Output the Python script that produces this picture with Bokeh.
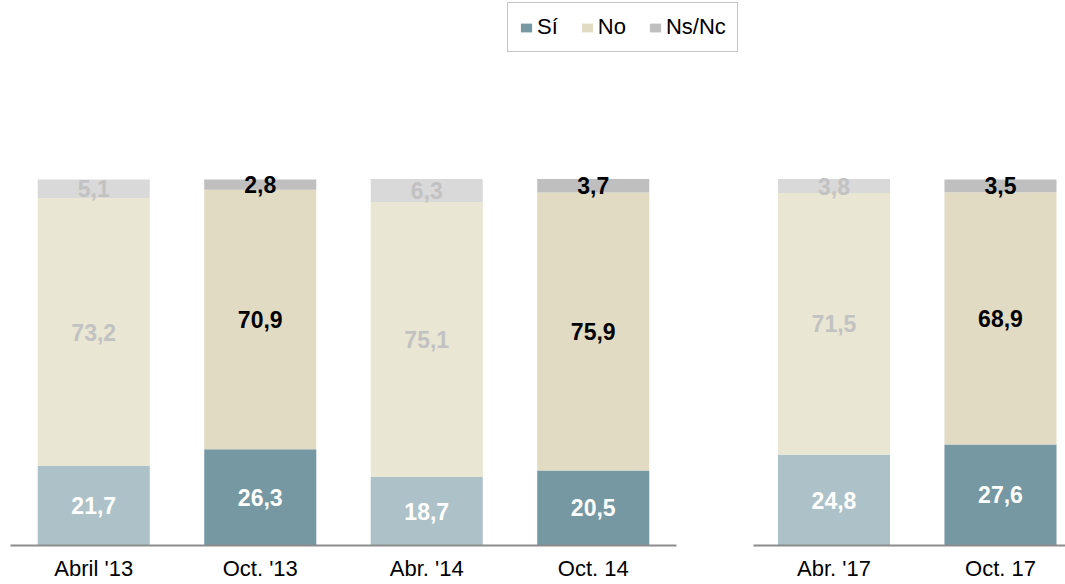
import numpy as np
from bokeh.plotting import figure
from bokeh.models import ColumnDataSource, Range1d, FixedTicker, Legend, LegendItem
from bokeh.layouts import column, row
from bokeh.embed import file_html
from bokeh.resources import INLINE
from bokeh.core.properties import value

# ---- data ----
periods_a = ["Abril '13", "Oct. '13", "Abr. '14", "Oct. 14"]
periods_b = ["Abr. '17", "Oct. 17"]
si = [21.7, 26.3, 18.7, 20.5, 24.8, 27.6]
no = [73.2, 70.9, 75.1, 75.9, 71.5, 68.9]
nsnc = [5.1, 2.8, 6.3, 3.7, 3.8, 3.5]
series_names = ["Sí", "No", "Ns/Nc"]

# ---- styles ----
dark = [False, True, False, True, False, True]
dark_colors = ["#7598A3", "#E2DBC3", "#BFBFBF"]
light_colors = ["#ADC2C8", "#E9E6D4", "#D9D9D9"]
dark_text = ["#FFFFFF", "#000000", "#000000"]
light_text = ["#FFFFFF", "#C2C2C2", "#C2C2C2"]
FONT = "Liberation Sans"
TOP_H = 68
PANEL_H = 516


def make_panel(labels, sl, width, bl, br, x0, x1):
    vals = np.array([si[sl], no[sl], nsnc[sl]])
    tops = np.cumsum(vals, axis=0)
    bottoms = tops - vals
    n = len(labels)
    xs = np.arange(n) + 0.5
    flags = dark[sl]
    p = figure(width=width, height=PANEL_H, x_range=Range1d(x0, x1),
               y_range=Range1d(0, 130.3), output_backend="svg",
               toolbar_location=None, y_axis_location=None,
               min_border_left=bl, min_border_right=br,
               min_border_top=0, min_border_bottom=39)
    p.outline_line_color = None
    p.xgrid.visible = False
    p.ygrid.visible = False
    p.background_fill_color = "white"
    p.border_fill_color = "white"
    for k in range(3):
        fills = [dark_colors[k] if d else light_colors[k] for d in flags]
        tcol = [dark_text[k] if d else light_text[k] for d in flags]
        src = ColumnDataSource(dict(
            x=xs, top=tops[k], bottom=bottoms[k],
            mid=(tops[k] + bottoms[k]) / 2, fill=fills,
            txt=[f"{v:.1f}".replace(".", ",") for v in vals[k]], tcol=tcol))
        p.vbar(x="x", top="top", bottom="bottom", width=0.673,
               fill_color="fill", line_color=None, source=src)
        p.text(x="x", y="mid", text="txt", text_color="tcol",
               text_font=value(FONT), text_font_size="23px",
               text_font_style="bold", text_align="center",
               text_baseline="middle", source=src)
    ax = p.xaxis[0]
    ax.ticker = FixedTicker(ticks=list(xs))
    ax.major_label_overrides = {float(x): lab for x, lab in zip(xs, labels)}
    ax.major_tick_line_color = None
    ax.major_tick_out = 0
    ax.major_tick_in = 0
    ax.minor_tick_line_color = None
    ax.minor_tick_out = 0
    ax.axis_line_color = "#8C8C8C"
    ax.axis_line_width = 2
    ax.major_label_text_font = FONT
    ax.major_label_text_font_size = "22px"
    ax.major_label_text_color = "#000000"
    ax.major_label_standoff = 10
    return p


left = make_panel(periods_a, slice(0, 4), 708, 10, 32, 0, 4)
right = make_panel(periods_b, slice(4, 6), 357, 45, 0, 0.0165, 1.8905)

top = figure(width=1065, height=TOP_H, x_range=Range1d(0, 1), y_range=Range1d(0, 1),
             output_backend="svg", toolbar_location=None,
             x_axis_location=None, y_axis_location=None, min_border=0)
top.outline_line_color = None
top.xgrid.visible = False
top.ygrid.visible = False
# legend-only renderers (a single NaN row so the legend swatch is drawn, nothing plotted)
rs = [top.vbar(x=[np.nan], top=[np.nan], width=0.1, fill_color=c, line_color=None)
      for c in dark_colors]
items = [LegendItem(label=nm, renderers=[r]) for nm, r in zip(series_names, rs)]
leg = Legend(items=items, orientation="horizontal", location=(507, 16),
             label_text_font=FONT, label_text_font_size="22px",
             label_text_color="#000000",
             glyph_width=14, glyph_height=11, label_standoff=4, spacing=22,
             padding=11, margin=0, border_line_color="#8C8C8C",
             border_line_width=1.5, background_fill_color="white",
             background_fill_alpha=1.0)
top.add_layout(leg)

p = column(top, row(left, right))
open("out.html", "w").write(file_html(p, INLINE))
